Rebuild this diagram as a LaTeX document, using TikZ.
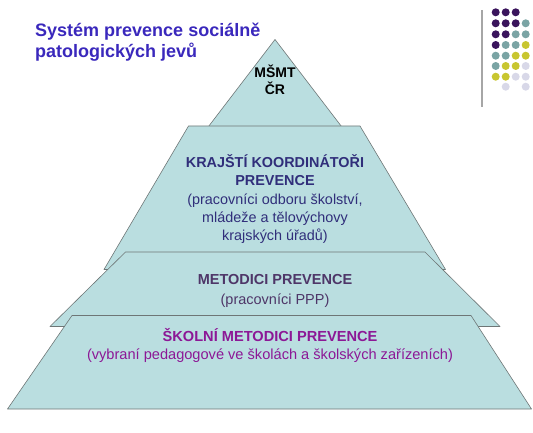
\documentclass[tikz,border=0pt]{standalone}
\usepackage{fontspec}
\setmainfont{Liberation Sans}

\definecolor{titleblue}{RGB}{58,40,188}
\definecolor{layerfill}{RGB}{186,222,224}
\definecolor{layerline}{RGB}{110,118,118}
\definecolor{krajcolor}{RGB}{48,46,122}
\definecolor{metcolor}{RGB}{78,54,104}
\definecolor{skolcolor}{RGB}{140,24,150}
\definecolor{dotpurple}{RGB}{58,20,92}
\definecolor{dotteal}{RGB}{122,164,164}
\definecolor{dotyellow}{RGB}{200,198,48}
\definecolor{dotlav}{RGB}{216,216,232}

\tikzstyle{layer} = [fill=layerfill, draw=layerline, line width=0.6pt, line join=round]
\tikzstyle{tiertext} = [anchor=base, align=center, inner sep=0pt]
\tikzstyle{dot} = [circle, minimum size=8pt, inner sep=0pt]

\begin{document}
\begin{tikzpicture}[x=1pt, y=-1pt]
\useasboundingbox (0,0) rectangle (533,433);

% title (base anchor sits on the last line)
\node[anchor=base west, align=left, inner sep=0pt, text=titleblue,
      font=\fontsize{18}{21.3}\selectfont\bfseries] (title) at (35,58)
    {Systém prevence sociálně\\patologických jevů};

% pyramid, drawn top to bottom
\draw[layer] (275,39.5) -- (348,135) -- (202,135) -- cycle;
\draw[layer] (188.5,126) -- (360,126) -- (445.5,269.5) -- (104,269.5) -- cycle;
\draw[layer] (125.5,252) -- (425,252) -- (500,326.5) -- (50,326.5) -- cycle;
\draw[layer] (72,315.5) -- (471,315.5) -- (531.5,409) -- (7.5,409) -- cycle;

\node[tiertext, font=\fontsize{14}{17.3}\selectfont\bfseries] (msmt) at (275,95)
    {MŠMT\\ČR};
\node[tiertext, text=krajcolor, font=\fontsize{14.4}{18.3}\selectfont] (kraj) at (275,240.7)
    {\textbf{KRAJŠTÍ KOORDINÁTOŘI}\\\textbf{PREVENCE}\\(pracovníci odboru školství,\\mládeže a tělovýchovy\\krajských úřadů)};
\node[tiertext, text=metcolor, font=\fontsize{14.5}{19.7}\selectfont] (metod) at (275,304.6)
    {\textbf{METODICI PREVENCE}\\(pracovníci PPP)};
\node[tiertext, text=skolcolor, font=\fontsize{14.6}{17.6}\selectfont] (skol) at (270,359)
    {\textbf{ŠKOLNÍ METODICI PREVENCE}\\(vybraní pedagogové ve školách a školských zařízeních)};

% logo
\draw[gray!70, line width=1.4pt] (482,10) -- (482,107);
\node[dot, fill=dotpurple] (d11) at (495.7,12.3) {};
\node[dot, fill=dotpurple] (d12) at (505.7,12.3) {};
\node[dot, fill=dotpurple] (d13) at (515.7,12.3) {};
\node[dot, fill=dotpurple] (d21) at (495.7,23.3) {};
\node[dot, fill=dotpurple] (d22) at (505.7,23.3) {};
\node[dot, fill=dotpurple] (d23) at (515.7,23.3) {};
\node[dot, fill=dotteal] (d24) at (525.7,23.3) {};
\node[dot, fill=dotpurple] (d31) at (495.7,34.3) {};
\node[dot, fill=dotpurple] (d32) at (505.7,34.3) {};
\node[dot, fill=dotteal] (d33) at (515.7,34.3) {};
\node[dot, fill=dotteal] (d34) at (525.7,34.3) {};
\node[dot, fill=dotpurple] (d41) at (495.7,45) {};
\node[dot, fill=dotteal] (d42) at (505.7,45) {};
\node[dot, fill=dotteal] (d43) at (515.7,45) {};
\node[dot, fill=dotyellow] (d44) at (525.7,45) {};
\node[dot, fill=dotteal] (d51) at (495.7,55.7) {};
\node[dot, fill=dotteal] (d52) at (505.7,55.7) {};
\node[dot, fill=dotyellow] (d53) at (515.7,55.7) {};
\node[dot, fill=dotyellow] (d54) at (525.7,55.7) {};
\node[dot, fill=dotteal] (d61) at (495.7,66) {};
\node[dot, fill=dotyellow] (d62) at (505.7,66) {};
\node[dot, fill=dotyellow] (d63) at (515.7,66) {};
\node[dot, fill=dotlav] (d64) at (525.7,66) {};
\node[dot, fill=dotyellow] (d71) at (495.7,76.7) {};
\node[dot, fill=dotyellow] (d72) at (505.7,76.7) {};
\node[dot, fill=dotlav] (d73) at (515.7,76.7) {};
\node[dot, fill=dotlav] (d74) at (525.7,76.7) {};
\node[dot, fill=dotlav] (d82) at (505.7,86.7) {};
\node[dot, fill=dotlav] (d84) at (525.7,86.7) {};
\end{tikzpicture}
\end{document}
